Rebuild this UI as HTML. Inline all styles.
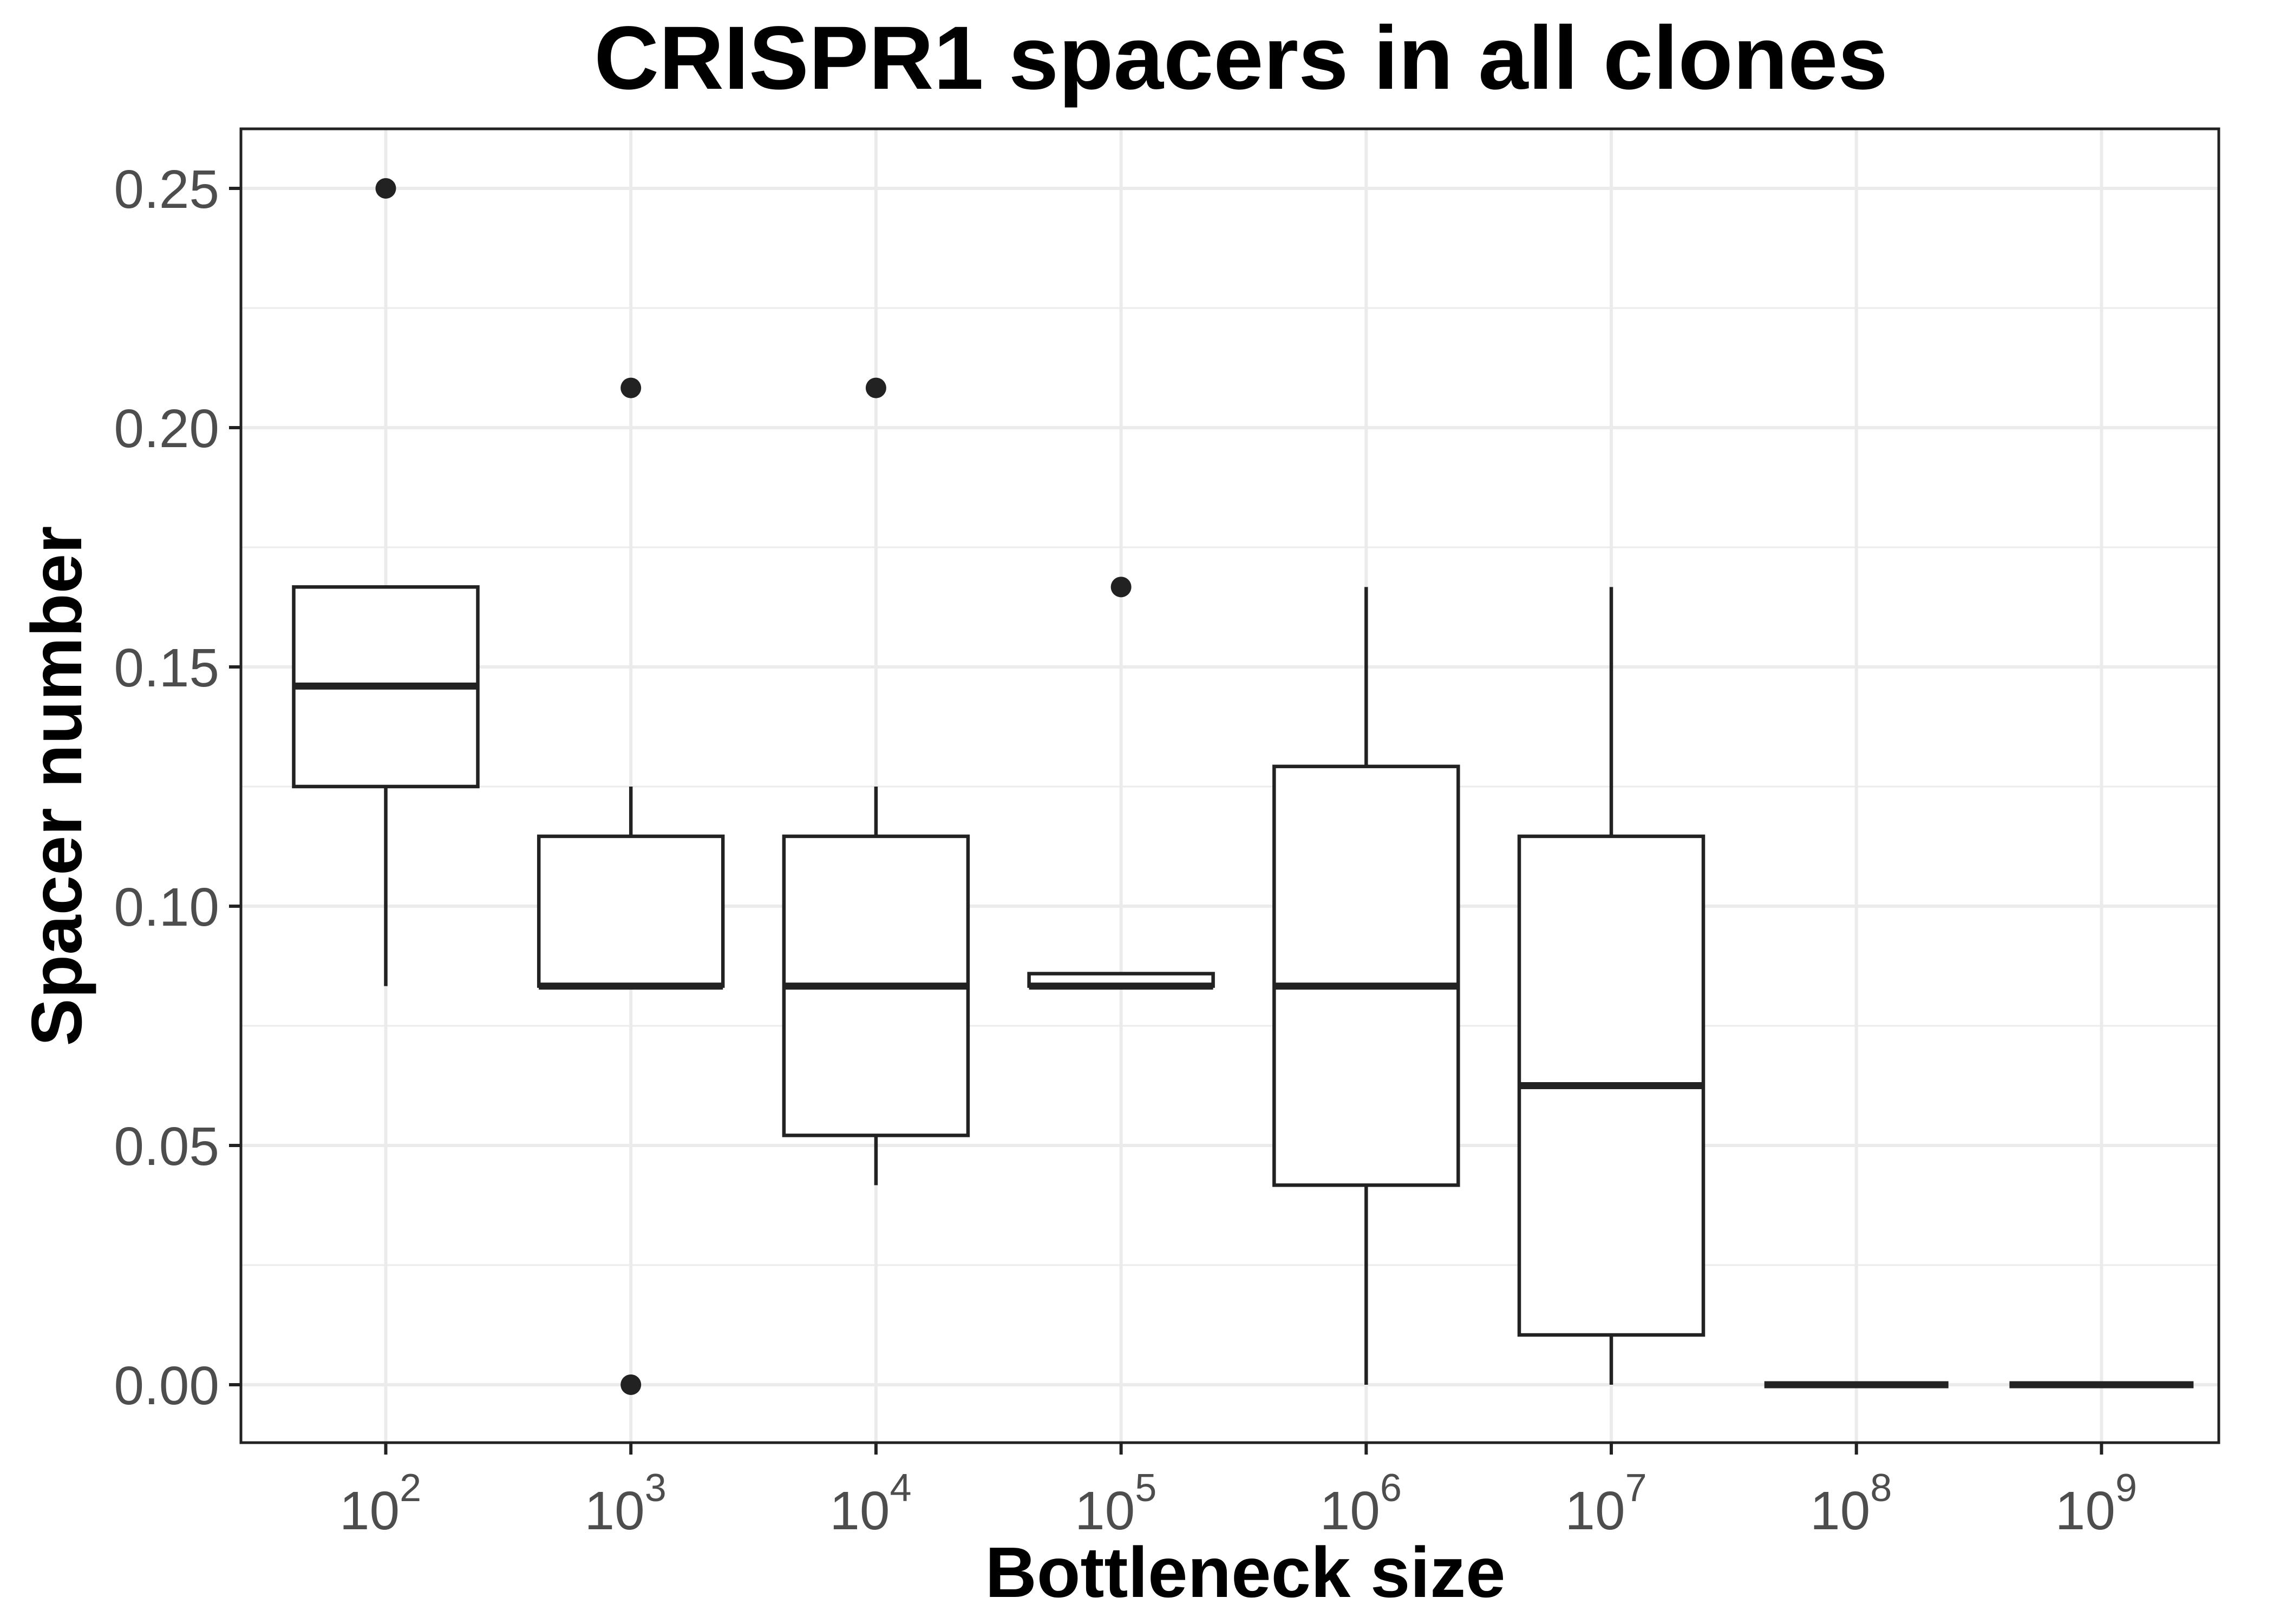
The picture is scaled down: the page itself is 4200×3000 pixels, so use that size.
<!DOCTYPE html>
<html><head><meta charset="utf-8"><style>
html,body{margin:0;padding:0;background:#fff}
svg{display:block;font-family:"Liberation Sans",Arial,sans-serif}
</style></head><body>
<svg id="chart" width="4200" height="3000" viewBox="0 0 4200 3000" xmlns="http://www.w3.org/2000/svg">
<rect width="4200" height="3000" fill="#fff"/>
<text x="2292" y="164" font-size="166" font-weight="bold" text-anchor="middle" fill="#000">CRISPR1 spacers in all clones</text>
<text transform="translate(150,1452) rotate(-90)" font-size="132" font-weight="bold" text-anchor="middle" fill="#000">Spacer number</text>
<text x="2300" y="2950" font-size="132" font-weight="bold" text-anchor="middle" fill="#000">Bottleneck size</text>
<g id="grid"></g><g id="marks"></g><g id="axes"></g>
</svg>
<script>
const categories = [2,3,4,5,6,7,8,9];
const lowWhisker = [0.0833,0.0833,0.0417,0.0833,0,0,0,0];
const q1 = [0.125,0.0833,0.0521,0.0833,0.0417,0.0104,0,0];
const median = [0.146,0.0833,0.0833,0.0833,0.0833,0.0625,0,0];
const q3 = [0.1667,0.1146,0.1146,0.0859,0.1292,0.1146,0,0];
const highWhisker = [0.1667,0.125,0.125,0.0859,0.1667,0.1667,0,0];
const outliers = [[0.25],[0.2083,0],[0.2083],[0.1667],[],[],[],[]];
const yTicks = [0,0.05,0.10,0.15,0.20,0.25];
const yTickLabels = ["0.00","0.05","0.10","0.15","0.20","0.25"];
const yMinor = [0.025,0.075,0.125,0.175,0.225];

const NS="http://www.w3.org/2000/svg";
const L=445,R=4098,T=238,B=2665;
const yMin=-0.01211,yMax=0.26244;
function y(v){return B-(v-yMin)/(yMax-yMin)*(B-T);}
function x(i){return 712.5+i*452.7;}
function mk(tag,attrs,parent){const e=document.createElementNS(NS,tag);for(const k in attrs)e.setAttribute(k,attrs[k]);parent.appendChild(e);return e;}
const grid=document.getElementById('grid'),marks=document.getElementById('marks'),axes=document.getElementById('axes');
mk('rect',{x:L,y:T,width:R-L,height:B-T,fill:'#fff'},grid);
yMinor.forEach(v=>{const e=mk('line',{x1:L,x2:R,y1:y(v),y2:y(v),stroke:'#ebebeb','stroke-width':3},grid);

});
yTicks.forEach(v=>{const e=mk('line',{x1:L,x2:R,y1:y(v),y2:y(v),stroke:'#ebebeb','stroke-width':6},grid);

});
categories.forEach((c,i)=>{const e=mk('line',{x1:x(i),x2:x(i),y1:T,y2:B,stroke:'#ebebeb','stroke-width':6},grid);

});
const hw=170;
categories.forEach((c,i)=>{
  const g=mk('g',{},marks);
  
  
  const cx=x(i);
  mk('line',{x1:cx,x2:cx,y1:y(q3[i]),y2:y(highWhisker[i]),stroke:'#222','stroke-width':6.5},g);
  mk('line',{x1:cx,x2:cx,y1:y(q1[i]),y2:y(lowWhisker[i]),stroke:'#222','stroke-width':6.5},g);
  mk('rect',{x:cx-hw,y:y(q3[i]),width:2*hw,height:Math.max(0,y(q1[i])-y(q3[i])),fill:'#fff',stroke:'#222','stroke-width':6.5},g);
  mk('line',{x1:cx-hw,x2:cx+hw,y1:y(median[i]),y2:y(median[i]),stroke:'#222','stroke-width':13},g);
  outliers[i].forEach(v=>{const p=mk('circle',{cx:cx,cy:y(v),r:19,fill:'#222'},g);
    
    });
});
const fr=mk('rect',{x:L,y:T,width:R-L,height:B-T,fill:'none',stroke:'#222','stroke-width':5},axes);


yTicks.forEach((v,k)=>{
  mk('line',{x1:L-22,x2:L,y1:y(v),y2:y(v),stroke:'#222','stroke-width':6},axes);
  const t=mk('text',{x:L-40,y:y(v)+36,'font-size':100,'text-anchor':'end',fill:'#4d4d4d'},axes);
  t.textContent=yTickLabels[k];
  
  
});
categories.forEach((c,i)=>{
  mk('line',{x1:x(i),x2:x(i),y1:B,y2:B+22,stroke:'#222','stroke-width':6},axes);
  const t=mk('text',{x:x(i)-10,y:B+160,'font-size':100,'text-anchor':'middle',fill:'#4d4d4d'},axes);
  t.textContent='10';
  const s=mk('tspan',{dy:-52,'font-size':72},t);
  s.textContent=String(c);
  
  
});
</script>
</body></html>
